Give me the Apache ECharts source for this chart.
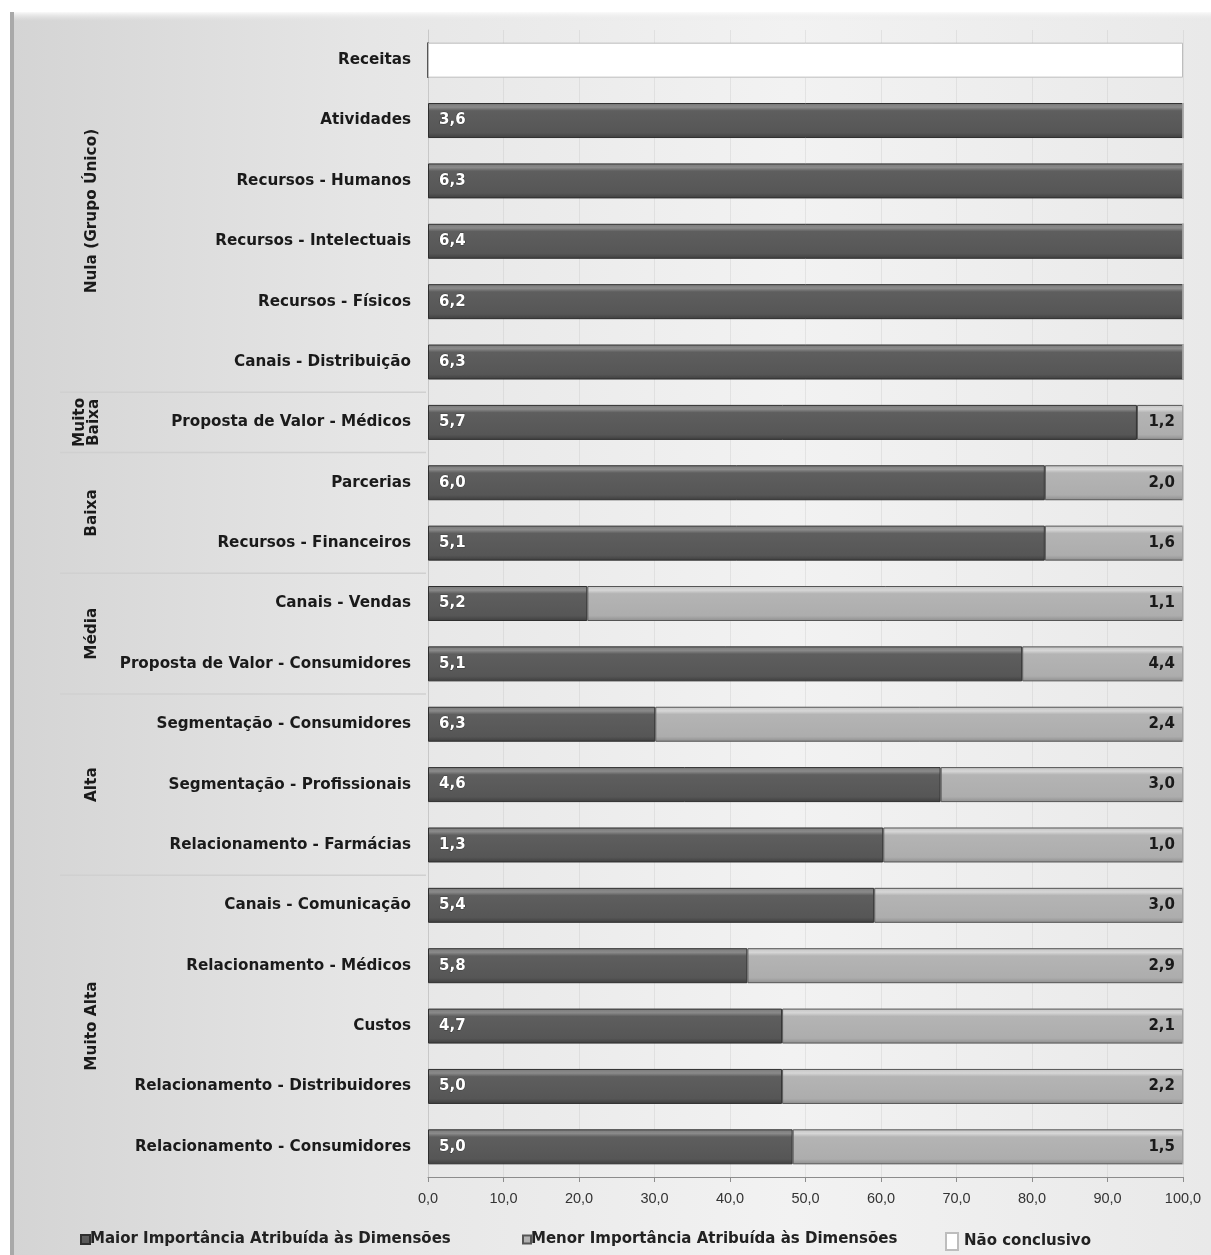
<!DOCTYPE html>
<html><head><meta charset="utf-8">
<script src="https://cdn.jsdelivr.net/npm/echarts@6/dist/echarts.min.js"></script>
<style>html,body{margin:0;padding:0;background:#fff}#c{width:1211px;height:1255px}</style>
</head><body><div id="c"></div>
<script>
const categories = ['Receitas','Atividades','Recursos - Humanos','Recursos - Intelectuais','Recursos - Físicos','Canais - Distribuição','Proposta de Valor - Médicos','Parcerias','Recursos - Financeiros','Canais - Vendas','Proposta de Valor - Consumidores','Segmentação - Consumidores','Segmentação - Profissionais','Relacionamento - Farmácias','Canais - Comunicação','Relacionamento - Médicos','Custos','Relacionamento - Distribuidores','Relacionamento - Consumidores'];
const maiorPct = [0,100,100,100,100,100,93.9,81.7,81.7,21.1,78.7,30.1,67.9,60.3,59.1,42.3,46.9,46.9,48.3];
const menorPct = [0,0,0,0,0,0,6.1,18.3,18.3,78.9,21.3,69.9,32.1,39.7,40.9,57.7,53.1,53.1,51.7];
const naoConclPct = [100,0,0,0,0,0,0,0,0,0,0,0,0,0,0,0,0,0,0];
const maiorLabels = ['','3,6','6,3','6,4','6,2','6,3','5,7','6,0','5,1','5,2','5,1','6,3','4,6','1,3','5,4','5,8','4,7','5,0','5,0'];
const menorLabels = ['','','','','','','1,2','2,0','1,6','1,1','4,4','2,4','3,0','1,0','3,0','2,9','2,1','2,2','1,5'];
const groupNames = ['Nula (Grupo Único)','Muito\nBaixa','Baixa','Média','Alta','Muito Alta'];
const groupStart = [0,6,7,9,11,14];
const groupEnd = [5,6,8,10,13,18];
const seriesNames = ['Maior Importância Atribuída às Dimensões','Menor Importância Atribuída às Dimensões','Não conclusivo'];

const chart = echarts.init(document.getElementById('c'), null, {renderer:'canvas'});
const FONT = '"DejaVu Sans", Verdana, sans-serif';
const darkGrad = new echarts.graphic.LinearGradient(0,0,0,1,[
  {offset:0,color:'#7a7a7a'},{offset:0.12,color:'#8a8a8a'},{offset:0.22,color:'#5e5e5e'},{offset:0.85,color:'#565656'},{offset:1,color:'#3e3e3e'}]);
const lightGrad = new echarts.graphic.LinearGradient(0,0,0,1,[
  {offset:0,color:'#c4c4c4'},{offset:0.12,color:'#d6d6d6'},{offset:0.22,color:'#b4b4b4'},{offset:0.85,color:'#adadad'},{offset:1,color:'#8e8e8e'}]);
const legendText = {fontSize:15,fontWeight:'bold',color:'#222',fontFamily:FONT};

const option = {
  animation:false,
  textStyle:{fontFamily:FONT},
  grid:{left:428,right:28,top:30,bottom:78,containLabel:false},
  xAxis:{type:'value',min:0,max:100,interval:10,
    axisLine:{show:true,lineStyle:{color:'#8c8c8c',width:1}},
    axisTick:{show:true,length:5,lineStyle:{color:'#8c8c8c'}},
    axisLabel:{color:'#333',fontSize:14.5,fontFamily:'"Liberation Sans Narrow","Liberation Sans",Arial,sans-serif',margin:14,
      formatter:v=>v.toFixed(1).replace('.',',')},
    splitLine:{show:true,lineStyle:{color:'rgba(0,0,0,0.06)'}}},
  yAxis:{type:'category',data:categories,inverse:true,
    axisLine:{show:true,lineStyle:{color:'#c8c8c8'}},axisTick:{show:false},
    axisLabel:{color:'#1a1a1a',fontSize:15.2,fontWeight:'bold',margin:17,fontFamily:FONT}},
  legend:[
    {data:[seriesNames[0]],left:80,top:1232,padding:0,itemWidth:9,itemHeight:9,textStyle:Object.assign({padding:[0,0,0,-5]},legendText),icon:'rect'},
    {data:[seriesNames[1]],left:522,top:1232,padding:0,itemWidth:8,itemHeight:8,textStyle:Object.assign({padding:[0,0,0,-5]},legendText),icon:'rect'},
    {data:[seriesNames[2]],left:945,top:1232,padding:0,itemWidth:12,itemHeight:17,textStyle:Object.assign({padding:[3,0,0,1]},legendText),icon:'rect'}
  ],
  series:[
    {name:seriesNames[0],type:'bar',stack:'s',barWidth:35,data:maiorPct,
      itemStyle:{color:darkGrad,borderColor:'#2e2e2e',borderWidth:1},
      label:{show:true,position:'insideLeft',distance:11,color:'#fff',fontSize:15,fontWeight:'bold',fontFamily:FONT,
        textBorderColor:'rgba(0,0,0,0.35)',textBorderWidth:1,
        formatter:p=>maiorLabels[p.dataIndex]}},
    {name:seriesNames[1],type:'bar',stack:'s',barWidth:35,data:menorPct,
      itemStyle:{color:lightGrad,borderColor:'#555',borderWidth:1},
      label:{show:true,position:'insideRight',distance:8,color:'#1a1a1a',fontSize:15,fontWeight:'bold',fontFamily:FONT,
        formatter:p=>menorLabels[p.dataIndex]}},
    {name:seriesNames[2],type:'bar',stack:'s',barWidth:35,data:naoConclPct,
      itemStyle:{color:'#ffffff',borderColor:'#bdbdbd',borderWidth:1},
      label:{show:false}}
  ]
};
chart.setOption(option);

const g = [];
g.push({type:'rect',z:-10,silent:true,shape:{x:10,y:12,width:1201,height:1243},
  style:{fill:new echarts.graphic.LinearGradient(0,0,1,0,[
    {offset:0,color:'#d4d4d4'},{offset:0.3,color:'#e6e6e6'},{offset:0.65,color:'#f2f2f2'},{offset:1,color:'#e9e9e9'}])}});
g.push({type:'rect',z:-9,silent:true,shape:{x:10,y:12,width:1201,height:9},
  style:{fill:new echarts.graphic.LinearGradient(0,0,0,1,[{offset:0,color:'#fafafa'},{offset:1,color:'rgba(230,230,230,0)'}])}});
g.push({type:'rect',z:-9,silent:true,shape:{x:10,y:12,width:4,height:1243},style:{fill:'#a9a9a9'}});
const step = chart.convertToPixel({yAxisIndex:0}, categories[1]) - chart.convertToPixel({yAxisIndex:0}, categories[0]);
for(let i=0;i<groupNames.length;i++){
  const y0 = chart.convertToPixel({yAxisIndex:0}, categories[groupStart[i]]);
  const y1 = chart.convertToPixel({yAxisIndex:0}, categories[groupEnd[i]]);
  const multi = groupNames[i].indexOf('\n')>=0;
  g.push({type:'text',silent:true,x:multi?87:92,y:(y0+y1)/2,rotation:Math.PI/2,
    style:{text:groupNames[i],align:'center',verticalAlign:'middle',font:'bold 15.3px '+FONT,fill:'#1a1a1a',lineHeight:14}});
  if(i>0){
    const yb = y0 - step/2;
    g.push({type:'line',silent:true,shape:{x1:60,y1:yb,x2:426,y2:yb},style:{stroke:'#d0d0d0',lineWidth:1.5}});
  }
}
chart.setOption({graphic:g});
</script></body></html>
